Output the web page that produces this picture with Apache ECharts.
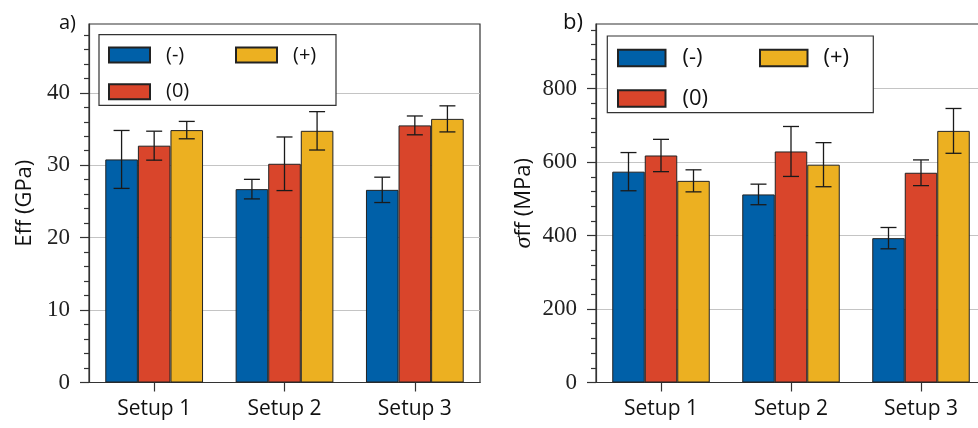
<!DOCTYPE html>
<html>
<head>
<meta charset="utf-8">
<script src="https://cdn.jsdelivr.net/npm/echarts@6/dist/echarts.min.js"></script>
<style>
html,body{margin:0;padding:0;background:#fff;}
#chart{width:978px;height:428px;}
</style>
</head>
<body>
<div id="chart"></div>
<script>
// ---- data ----
const categories = ['Setup 1', 'Setup 2', 'Setup 3'];
const seriesNames = ['(-)', '(0)', '(+)'];

const effMinus = [30.8, 26.7, 26.6];
const effMinusErr = [4.0, 1.35, 1.75];
const effZero = [32.7, 30.2, 35.5];
const effZeroErr = [2.0, 3.7, 1.3];
const effPlus = [34.85, 34.75, 36.4];
const effPlusErr = [1.2, 2.65, 1.8];

const sigMinus = [574, 512, 393];
const sigMinusErr = [52, 28, 29];
const sigZero = [618, 629, 571];
const sigZeroErr = [44, 68, 35];
const sigPlus = [549, 593, 685];
const sigPlusErr = [30, 60, 61];

const effMajorTicks = [0, 10, 20, 30, 40];
const effMinorTicks = [2, 4, 6, 8, 12, 14, 16, 18, 22, 24, 26, 28, 32, 34, 36, 38, 42, 44, 46, 48];
const sigMajorTicks = [0, 200, 400, 600, 800];
const sigMinorTicks = [40, 80, 120, 160, 240, 280, 320, 360, 440, 480, 520, 560, 640, 680, 720, 760, 840, 880, 920, 960];

const effMax = 49.5;
const sigMax = 976;

// ---- style ----
const colors = ['#0060a8', '#d9452b', '#ecb021'];
const axisColor = '#333';
const sansFont = "'Open Sans', sans-serif";
const serifFont = "'Liberation Serif', serif";

const chart = echarts.init(document.getElementById('chart'), null, {renderer: 'canvas'});

function barSeries(name, data, k, g) {
  return {
    type: 'bar', name: name, data: data,
    xAxisIndex: g, yAxisIndex: g * 2,
    barGap: '0%', barCategoryGap: '25%',
    itemStyle: {color: colors[k], borderColor: '#222', borderWidth: 1},
    z: 2
  };
}

function errSeries(means, errs, k, g) {
  return {
    type: 'custom',
    xAxisIndex: g, yAxisIndex: g * 2,
    z: 5,
    silent: true,
    data: means.map((m, i) => [i, m, errs[i]]),
    renderItem: function (params, api) {
      const ci = api.value(0), v = api.value(1), e = api.value(2);
      const band = api.size([1, 0])[0];
      const bw = band * 0.25;
      const c = api.coord([ci, v]);
      const x = c[0] + (k - 1) * bw;
      const top = api.coord([ci, v + e])[1];
      const bot = api.coord([ci, v - e])[1];
      const cap = 8;
      const st = {stroke: '#1a1a1a', lineWidth: 1.3};
      return {
        type: 'group',
        children: [
          {type: 'line', shape: {x1: x, y1: top, x2: x, y2: bot}, style: st},
          {type: 'line', shape: {x1: x - cap, y1: top, x2: x + cap, y2: top}, style: st},
          {type: 'line', shape: {x1: x - cap, y1: bot, x2: x + cap, y2: bot}, style: st}
        ]
      };
    }
  };
}

function yAxes(g, max, major, minor, name, nameGap, rich) {
  return [
    {
      type: 'value', gridIndex: g, min: 0, max: max, interval: major[1] - major[0],
      position: 'left', offset: 0,
      name: name, nameLocation: 'middle', nameGap: nameGap, nameRotate: 90,
      nameTextStyle: {fontFamily: sansFont, fontSize: 22, color: '#111', rich: rich},
      axisLine: {show: true, lineStyle: {color: axisColor, width: 1.2}},
      axisTick: {show: true, length: 9, inside: false, customValues: major, lineStyle: {color: axisColor, width: 1.2}},
      axisLabel: {customValues: major, fontFamily: serifFont, fontSize: 23, color: '#222', margin: 19},
      splitLine: {show: true, lineStyle: {color: '#c4c4c4', width: 1.2}},
      minorTick: {show: false}
    },
    {
      type: 'value', gridIndex: g, min: 0, max: max,
      position: 'left', offset: 0,
      axisLine: {show: false},
      axisTick: {show: true, length: 5, inside: false, customValues: minor, lineStyle: {color: axisColor, width: 1.2}},
      axisLabel: {show: false},
      splitLine: {show: false}
    }
  ];
}

function xAxis(g) {
  return {
    type: 'category', gridIndex: g, data: categories,
    axisLine: {show: true, lineStyle: {color: axisColor, width: 1.2}},
    axisTick: {show: true, alignWithLabel: true, length: 9, lineStyle: {color: axisColor, width: 1.2}},
    axisLabel: {fontFamily: sansFont, fontSize: 21, color: '#111', margin: 16}
  };
}

function legends(left1, left2, top, iw, ih, gap, fs, pad1, pad2) {
  const common = {
    orient: 'vertical', top: top, itemWidth: iw, itemHeight: ih, itemGap: gap,
    icon: 'rect', selectedMode: false, padding: 0, z: 10,
    textStyle: {fontFamily: sansFont, fontSize: fs, color: '#111'}
  };
  return [
    Object.assign({}, common, {left: left1, data: [seriesNames[0], seriesNames[1]],
      textStyle: Object.assign({}, common.textStyle, {padding: [0, 0, 0, pad1]})}),
    Object.assign({}, common, {left: left2, data: [seriesNames[2]],
      textStyle: Object.assign({}, common.textStyle, {padding: [0, 0, 0, pad2]})})
  ];
}

const gridCommon = {show: true, borderColor: axisColor, borderWidth: 1.2, backgroundColor: 'transparent',
  containLabel: false, outerBoundsMode: 'none'};

const option = {
  animation: false,
  backgroundColor: '#fff',
  grid: [
    Object.assign({left: 89, top: 24, width: 391, height: 358.5}, gridCommon),
    Object.assign({left: 596, top: 24, width: 390, height: 358.5}, gridCommon)
  ],
  xAxis: [xAxis(0), xAxis(1)],
  yAxis: [].concat(
    yAxes(0, effMax, effMajorTicks, effMinorTicks, 'Eff (GPa)', 53, {}),
    yAxes(1, sigMax, sigMajorTicks, sigMinorTicks, '{s|σ}ff (MPa)', 60,
      {s: {fontFamily: serifFont, fontStyle: 'italic', fontSize: 24, color: '#111'}})
  ),
  legend: [].concat(
    legends(108, 235, 45, 41, 15, 16.7, 20, 11, 11),
    legends(617, 759, 47, 47.5, 16.5, 18.6, 22, 12, 11)
  ),
  graphic: [
    {type: 'rect', z: 8, shape: {x: 99, y: 34.7, width: 237, height: 70.6},
      style: {fill: '#fff', stroke: axisColor, lineWidth: 1.2}},
    {type: 'rect', z: 8, shape: {x: 607.3, y: 36, width: 266, height: 76.7},
      style: {fill: '#fff', stroke: axisColor, lineWidth: 1.2}},
    {type: 'text', z: 8, x: 59, y: 13, style: {text: 'a)', font: "20px 'Open Sans'", fill: '#111', textVerticalAlign: 'top'}},
    {type: 'text', z: 8, x: 563, y: 12, style: {text: 'b)', font: "22px 'Open Sans'", fill: '#111', textVerticalAlign: 'top'}}
  ],
  series: [
    barSeries(seriesNames[0], effMinus, 0, 0),
    barSeries(seriesNames[1], effZero, 1, 0),
    barSeries(seriesNames[2], effPlus, 2, 0),
    errSeries(effMinus, effMinusErr, 0, 0),
    errSeries(effZero, effZeroErr, 1, 0),
    errSeries(effPlus, effPlusErr, 2, 0),
    barSeries(seriesNames[0], sigMinus, 0, 1),
    barSeries(seriesNames[1], sigZero, 1, 1),
    barSeries(seriesNames[2], sigPlus, 2, 1),
    errSeries(sigMinus, sigMinusErr, 0, 1),
    errSeries(sigZero, sigZeroErr, 1, 1),
    errSeries(sigPlus, sigPlusErr, 2, 1)
  ]
};
chart.setOption(option);
</script>
</body>
</html>
